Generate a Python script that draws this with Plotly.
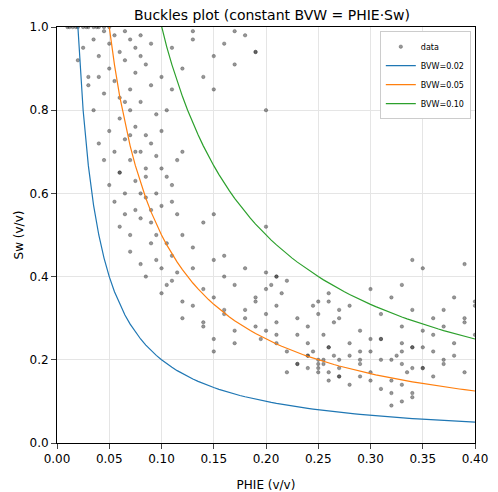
import plotly.graph_objects as go

# scatter values (estimated)
phie = [0.01, 0.015, 0.02, 0.025, 0.03, 0.035, 0.04, 0.045, 0.05, 0.012, 0.018, 0.028, 0.038,
        0.02, 0.025, 0.03, 0.035, 0.04, 0.045, 0.05, 0.055, 0.06, 0.065, 0.07, 0.075, 0.08,
        0.03, 0.035, 0.04, 0.045, 0.05, 0.055, 0.06, 0.065, 0.07, 0.075, 0.08, 0.085, 0.09,
        0.04, 0.045, 0.05, 0.055, 0.06, 0.065, 0.07, 0.075, 0.08, 0.085, 0.09, 0.095, 0.10,
        0.05, 0.055, 0.06, 0.065, 0.07, 0.075, 0.08, 0.085, 0.09, 0.095, 0.10, 0.105, 0.11,
        0.06, 0.065, 0.07, 0.075, 0.08, 0.085, 0.09, 0.095, 0.10, 0.105, 0.11, 0.115, 0.12,
        0.07, 0.08, 0.09, 0.10, 0.11, 0.12, 0.13, 0.14, 0.15, 0.085, 0.095, 0.105, 0.115,
        0.10, 0.11, 0.12, 0.13, 0.14, 0.15, 0.16, 0.12, 0.13, 0.14, 0.15, 0.16, 0.17, 0.18,
        0.11, 0.12, 0.13, 0.14, 0.15, 0.16, 0.17, 0.18, 0.19, 0.2, 0.13, 0.15, 0.17, 0.19,
        0.14, 0.15, 0.16, 0.17, 0.18, 0.19, 0.20, 0.21, 0.15, 0.17, 0.19, 0.21, 0.16, 0.18,
        0.20, 0.205, 0.21, 0.215, 0.22, 0.19, 0.2, 0.21, 0.2, 0.195, 0.21,
        0.20, 0.21, 0.22, 0.23, 0.24, 0.25, 0.26, 0.27, 0.28, 0.29, 0.30,
        0.22, 0.23, 0.24, 0.25, 0.26, 0.27, 0.28, 0.29, 0.30, 0.31, 0.32, 0.33, 0.34,
        0.23, 0.24, 0.245, 0.25, 0.255, 0.26, 0.265, 0.27, 0.25, 0.26, 0.24, 0.255,
        0.28, 0.29, 0.30, 0.31, 0.32, 0.33, 0.34, 0.35, 0.36, 0.37, 0.38, 0.39, 0.40,
        0.30, 0.31, 0.32, 0.33, 0.34, 0.35, 0.36, 0.37, 0.38, 0.39, 0.40, 0.32, 0.33, 0.34,
        0.25, 0.27, 0.29, 0.31, 0.33, 0.35, 0.37, 0.39, 0.26, 0.28, 0.30, 0.32, 0.34, 0.36,
        0.33, 0.34, 0.35, 0.38, 0.39, 0.40, 0.36, 0.31, 0.29, 0.27, 0.37, 0.35,
        0.06, 0.07, 0.08, 0.09, 0.10, 0.11, 0.065, 0.075, 0.085, 0.095, 0.105, 0.115,
        0.24, 0.25, 0.26, 0.245, 0.255, 0.265, 0.33, 0.335, 0.325, 0.34, 0.23, 0.27]
sw = [1.0, 1.0, 1.0, 1.0, 1.0, 1.0, 1.0, 1.0, 1.0, 1.0, 1.0, 1.0, 1.0,
      0.92, 0.95, 0.88, 0.97, 0.93, 0.99, 0.96, 0.98, 0.94, 0.99, 0.97, 0.95, 0.98,
      0.86, 0.80, 0.88, 0.84, 0.90, 0.87, 0.83, 0.92, 0.85, 0.89, 0.93, 0.91, 0.96,
      0.72, 0.68, 0.75, 0.70, 0.78, 0.73, 0.80, 0.76, 0.82, 0.74, 0.86, 0.79, 0.88,
      0.62, 0.58, 0.65, 0.60, 0.68, 0.63, 0.70, 0.66, 0.72, 0.69, 0.75, 0.80, 0.85,
      0.52, 0.55, 0.50, 0.56, 0.54, 0.59, 0.53, 0.60, 0.57, 0.64, 0.62, 0.68, 0.70,
      0.46, 0.43, 0.48, 0.42, 0.45, 0.50, 0.47, 0.53, 0.55, 0.40, 0.44, 0.38, 0.41,
      0.36, 0.39, 0.34, 0.42, 0.37, 0.44, 0.40, 0.30, 0.33, 0.28, 0.35, 0.31, 0.38, 0.32,
      0.95, 0.90, 0.97, 0.88, 0.93, 0.96, 0.91, 0.98, 0.94, 0.80, 0.99, 0.85, 0.99, 0.94,
      0.29, 0.25, 0.32, 0.27, 0.30, 0.34, 0.37, 0.40, 0.22, 0.24, 0.28, 0.33, 0.45, 0.42,
      0.41, 0.38, 0.40, 0.36, 0.39, 0.35, 0.31, 0.29, 0.52, 0.25, 0.26,
      0.27, 0.24, 0.22, 0.26, 0.21, 0.19, 0.23, 0.20, 0.24, 0.22, 0.25,
      0.17, 0.19, 0.21, 0.18, 0.23, 0.16, 0.21, 0.19, 0.17, 0.20, 0.15, 0.22, 0.18,
      0.30, 0.28, 0.33, 0.31, 0.26, 0.34, 0.29, 0.32, 0.17, 0.15, 0.24, 0.20,
      0.14, 0.16, 0.15, 0.13, 0.12, 0.14, 0.11, 0.18, 0.16, 0.19, 0.21, 0.17, 0.26,
      0.22, 0.25, 0.20, 0.24, 0.23, 0.18, 0.26, 0.28, 0.24, 0.30, 0.33, 0.09, 0.10, 0.12,
      0.34, 0.30, 0.27, 0.31, 0.28, 0.27, 0.32, 0.29, 0.36, 0.33, 0.37, 0.35, 0.32, 0.30,
      0.38, 0.44, 0.42, 0.35, 0.43, 0.34, 0.22, 0.25, 0.20, 0.18, 0.20, 0.23,
      0.65, 0.74, 0.60, 0.56, 0.66, 0.58, 0.82, 0.70, 0.64, 0.50, 0.48, 0.55,
      0.18, 0.20, 0.17, 0.22, 0.19, 0.21, 0.19, 0.17, 0.21, 0.23, 0.19, 0.16]

bvw_values = [0.02, 0.05, 0.10]
bvw_colors = ["#1f77b4", "#ff7f0e", "#2ca02c"]
phie_grid = [0.005 * i for i in range(1, 81)]

fig = go.Figure()
fig.add_trace(go.Scatter(x=phie, y=sw, mode="markers", name="data",
                         marker=dict(color="rgba(50,50,50,0.5)", size=3.5,
                                     line=dict(color="rgba(20,20,20,0.5)", width=0.5))))
for bvw, col in zip(bvw_values, bvw_colors):
    fig.add_trace(go.Scatter(x=phie_grid, y=[bvw / p for p in phie_grid], mode="lines",
                             name=f"BVW={bvw:.2f}", line=dict(color=col, width=1.2)))

axis = dict(showline=True, linecolor="black", mirror=True, ticks="outside",
            showgrid=True, gridcolor="#e5e5e5", zeroline=False, tickfont=dict(size=12))
fig.update_layout(
    width=498, height=492, template="none",
    font=dict(family="DejaVu Sans", color="black"),
    title=dict(text="Buckles plot (constant BVW = PHIE·Sw)", x=0.53, y=0.995,
               yanchor="top", font=dict(size=14)),
    margin=dict(l=49, r=31, t=19, b=57),
    xaxis=dict(axis, range=[0, 0.4], dtick=0.05, tickformat=".2f",
               title=dict(text="PHIE (v/v)", font=dict(size=12))),
    yaxis=dict(axis, range=[0, 1], dtick=0.2, tickformat=".1f",
               title=dict(text="Sw (v/v)", font=dict(size=12))),
    legend=dict(x=0.99, y=0.99, xanchor="right", yanchor="top", bgcolor="white",
                bordercolor="#cccccc", borderwidth=1, font=dict(size=8),
                tracegroupgap=0, itemwidth=30),
    plot_bgcolor="white",
)
fig.write_html("out.html")
